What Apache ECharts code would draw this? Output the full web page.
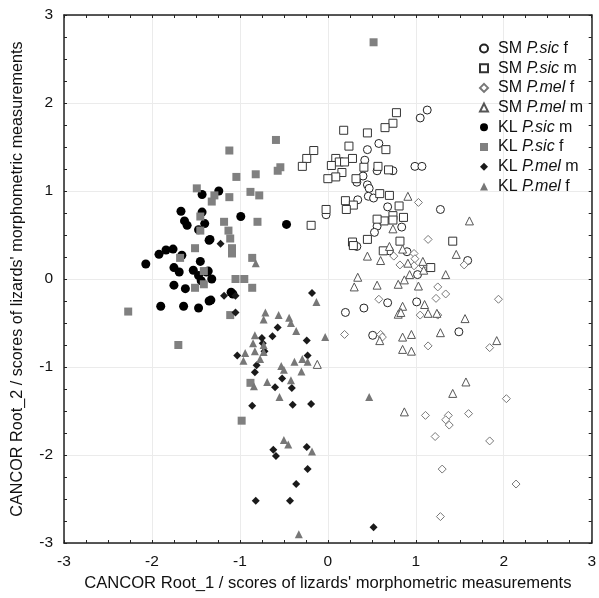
<!DOCTYPE html>
<html>
<head>
<meta charset="utf-8">
<script src="https://cdn.jsdelivr.net/npm/echarts@6/dist/echarts.min.js"></script>
<style>
  html, body { margin: 0; padding: 0; background: #fff; }
  #chart { width: 599px; height: 598px; }
</style>
</head>
<body>
<div id="chart"></div>
<script>
// axis ticks
const ticks = [-3, -2, -1, 0, 1, 2, 3];

// SM P.sic f (open circles)
const smPsicF = [[1.13,1.92],[1.05,1.83],[0.58,1.54],[0.45,1.47],[0.99,1.28],[1.07,1.28],[0.42,1.35],[0.56,1.23],[0.74,1.23],[0.40,1.17],[0.33,1.10],[0.45,1.07],[0.47,1.03],[0.46,0.94],[0.52,0.92],[0.34,0.90],[0.68,0.82],[1.28,0.79],[-0.02,0.73],[0.56,0.60],[0.84,0.59],[0.53,0.53],[0.33,0.37],[0.70,0.32],[0.90,0.31],[1.59,0.21],[1.02,0.05],[0.20,-0.38],[0.41,-0.33],[0.68,-0.27],[1.01,-0.26],[0.51,-0.64],[1.49,-0.60]];
// SM P.sic m (open squares)
const smPsicM = [[0.78,1.89],[0.74,1.77],[0.65,1.72],[0.18,1.69],[0.45,1.66],[0.24,1.51],[0.66,1.47],[-0.16,1.46],[-0.24,1.37],[-0.29,1.28],[0.09,1.37],[0.13,1.33],[0.19,1.33],[0.28,1.37],[0.04,1.29],[0.41,1.27],[0.57,1.28],[0.69,1.24],[0.16,1.21],[0.09,1.16],[0.00,1.14],[0.32,1.14],[0.59,0.97],[0.70,0.95],[0.20,0.89],[0.29,0.84],[0.21,0.79],[-0.02,0.79],[-0.19,0.61],[0.81,0.83],[0.74,0.72],[0.86,0.70],[0.64,0.66],[0.56,0.68],[0.74,0.67],[0.45,0.45],[0.28,0.42],[0.29,0.38],[0.63,0.32],[0.82,0.43],[1.42,0.43],[1.17,0.13]];
// SM P.mel f (open diamonds)
const smPmelF = [[1.03,0.87],[1.14,0.45],[0.98,0.29],[0.75,0.26],[0.99,0.23],[0.82,0.16],[0.98,0.15],[1.08,0.15],[1.55,0.16],[1.25,-0.09],[1.34,-0.17],[1.23,-0.22],[0.58,-0.23],[1.05,-0.41],[1.25,-0.41],[0.19,-0.63],[0.60,-0.63],[0.62,-0.66],[1.14,-0.76],[1.84,-0.78],[1.94,-0.23],[2.03,-1.36],[1.11,-1.55],[1.37,-1.55],[1.34,-1.60],[1.38,-1.66],[1.60,-1.53],[1.22,-1.79],[1.84,-1.84],[1.30,-2.16],[2.14,-2.33],[1.28,-2.70]];
// SM P.mel m (open triangles)
const smPmelM = [[0.91,0.94],[1.61,0.66],[0.74,0.57],[0.45,0.26],[0.60,0.21],[0.70,0.37],[0.85,0.34],[0.91,0.18],[1.08,0.20],[1.09,0.10],[0.93,0.05],[1.46,0.28],[1.34,0.05],[0.34,0.02],[0.30,-0.09],[0.56,-0.07],[0.80,-0.06],[0.87,-0.01],[1.03,-0.08],[0.85,-0.31],[0.80,-0.40],[0.83,-0.38],[1.10,-0.29],[1.14,-0.39],[1.24,-0.39],[1.56,-0.45],[1.28,-0.61],[0.85,-0.66],[0.95,-0.63],[0.59,-0.70],[0.85,-0.80],[0.95,-0.82],[1.92,-0.70],[-0.12,-0.97],[1.57,-1.17],[1.42,-1.30],[0.87,-1.51]];
// KL P.sic m (black circles)
const klPsicM = [[-1.24,1.00],[-1.43,0.96],[-1.67,0.77],[-1.63,0.66],[-1.60,0.61],[-1.43,0.76],[-1.40,0.63],[-1.47,0.56],[-1.35,0.44],[-1.34,0.45],[-0.99,0.71],[-0.47,0.62],[-2.07,0.17],[-1.92,0.28],[-1.84,0.33],[-1.76,0.34],[-1.66,0.27],[-1.75,0.13],[-1.69,0.08],[-1.75,-0.07],[-1.62,-0.11],[-1.53,0.10],[-1.45,0.20],[-1.47,0.04],[-1.38,0.08],[-1.36,0.09],[-1.32,0.00],[-1.44,-0.02],[-1.90,-0.31],[-1.64,-0.31],[-1.47,-0.33],[-1.35,-0.25],[-1.33,-0.24],[-1.10,-0.15],[-1.08,-0.17]];
// KL P.sic f (grey squares)
const klPsicF = [[0.52,2.69],[-0.59,1.58],[-1.12,1.46],[-1.04,1.16],[-0.82,1.19],[-0.57,1.23],[-0.54,1.27],[-0.88,0.99],[-0.78,0.95],[-1.49,1.03],[-1.29,0.95],[-1.32,0.88],[-1.12,0.93],[-1.45,0.71],[-1.18,0.65],[-1.13,0.55],[-1.11,0.46],[-1.09,0.35],[-1.09,0.29],[-0.80,0.65],[-1.45,0.55],[-1.51,0.35],[-1.68,0.24],[-0.86,0.24],[-1.41,0.09],[-1.41,-0.06],[-1.51,-0.10],[-1.05,0.00],[-0.95,0.00],[-0.86,-0.10],[-1.11,-0.41],[-2.27,-0.37],[-1.70,-0.75],[-0.88,-1.18],[-0.98,-1.61]];
// KL P.mel m (black diamonds)
const klPmelM = [[-1.22,0.40],[-1.18,-0.19],[-1.05,-0.19],[-1.05,-0.38],[-0.18,-0.16],[-0.57,-0.55],[-0.63,-0.65],[-0.75,-0.67],[-0.74,-0.73],[-0.72,-0.82],[-0.24,-0.70],[-1.03,-0.87],[-0.23,-0.87],[-0.81,-0.98],[-0.83,-1.06],[-0.52,-1.13],[-0.60,-1.23],[-0.41,-1.24],[-0.86,-1.44],[-0.40,-1.43],[-0.19,-1.42],[-0.62,-1.94],[-0.59,-2.01],[-0.24,-1.91],[-0.23,-2.16],[-0.36,-2.33],[-0.82,-2.52],[-0.43,-2.52],[0.52,-2.82]];
// KL P.mel f (grey triangles)
const klPmelF = [[-0.82,0.18],[-0.13,-0.26],[-0.71,-0.38],[-0.73,-0.46],[-0.56,-0.41],[-0.44,-0.44],[-0.42,-0.50],[-0.36,-0.59],[-0.03,-0.66],[-0.83,-0.64],[-0.85,-0.73],[-0.83,-0.82],[-0.73,-0.75],[-0.73,-0.83],[-0.94,-0.84],[-0.96,-0.93],[-0.77,-0.91],[-0.53,-0.99],[-0.50,-1.03],[-0.38,-0.94],[-0.29,-0.91],[-0.23,-0.94],[-0.30,-1.05],[-0.69,-1.17],[-0.84,-1.22],[-0.42,-1.15],[-0.55,-1.34],[-0.50,-1.83],[-0.45,-1.88],[-0.18,-1.96],[-0.33,-2.90],[0.47,-1.34]];

const font = 'Arial, "Liberation Sans", sans-serif';

function mk(name, data, symbol, size, fill, border) {
    return {
        name: name,
        type: 'scatter',
        data: data,
        symbol: symbol,
        symbolSize: size,
        itemStyle: { color: fill, borderColor: border, borderWidth: fill === '#fff' ? 1 : 0, opacity: 1 },
        emphasis: { disabled: true }
    };
}

function axisCommon(pos, showLabel) {
    return {
        type: 'value', min: ticks[0], max: ticks[ticks.length - 1], interval: 1, position: pos,
        axisLine: { show: true, onZero: false, lineStyle: { color: '#222', width: 1.5 } },
        axisTick: { show: true, inside: true, length: 3, lineStyle: { color: '#222' } },
        minorTick: { show: true, splitNumber: 4, length: 3, lineStyle: { color: '#222' } },
        splitLine: { show: showLabel, lineStyle: { color: '#ebebeb', width: 1 } },
        axisLabel: { show: showLabel, color: '#111', fontSize: 15.5, fontFamily: font, margin: 11 }
    };
}

const chart = echarts.init(document.getElementById('chart'));
chart.setOption({
    animation: false,
    grid: { left: 64, right: 6, top: 15, bottom: 55, containLabel: false },
    xAxis: [
        Object.assign(axisCommon('bottom', true), {
            name: "CANCOR Root_1 / scores of lizards' morphometric measurements",
            nameLocation: 'middle', nameGap: 29,
            nameTextStyle: { color: '#111', fontSize: 16.6, fontFamily: font }
        }),
        axisCommon('top', false)
    ],
    yAxis: [
        Object.assign(axisCommon('left', true), {
            name: "CANCOR Root_2 / scores of lizards' morphometric measurements",
            nameLocation: 'middle', nameGap: 38,
            nameTextStyle: { color: '#111', fontSize: 16.2, fontFamily: font }
        }),
        axisCommon('right', false)
    ],
    legend: {
        orient: 'vertical', left: 474, top: 34.5,
        itemWidth: 8, itemHeight: 8, itemGap: 1.7,
        data: ['SM P.sic f', 'SM P.sic m', 'SM P.mel f', 'SM P.mel m', 'KL P.sic m', 'KL P.sic f', 'KL P.mel m', 'KL P.mel f'],
        formatter: function (name) {
            const p = name.split(' ');
            return '{s| }{n|' + p[0] + ' }{i|' + p[1] + '}{n| ' + p[2] + '}';
        },
        textStyle: {
            color: '#111', fontSize: 16, fontFamily: font, lineHeight: 18,
            rich: {
                s: { width: 5, fontSize: 16, lineHeight: 18 },
                n: { fontSize: 16, fontFamily: font, color: '#111', lineHeight: 18 },
                i: { fontSize: 16, fontFamily: font, color: '#111', fontStyle: 'italic', lineHeight: 18 }
            }
        }
    },
    series: [
        mk('SM P.sic f', smPsicF, 'circle', 8, '#fff', '#222'),
        mk('SM P.sic m', smPsicM, 'rect', 8, '#fff', '#333'),
        mk('SM P.mel f', smPmelF, 'diamond', 8, '#fff', '#777'),
        mk('SM P.mel m', smPmelM, 'triangle', 8, '#fff', '#555'),
        mk('KL P.sic m', klPsicM, 'circle', 9, '#000', '#000'),
        mk('KL P.sic f', klPsicF, 'rect', 8, '#808080', '#808080'),
        mk('KL P.mel m', klPmelM, 'diamond', 8, '#1a1a1a', '#1a1a1a'),
        mk('KL P.mel f', klPmelF, 'triangle', 8, '#777', '#777')
    ]
});
</script>
</body>
</html>
